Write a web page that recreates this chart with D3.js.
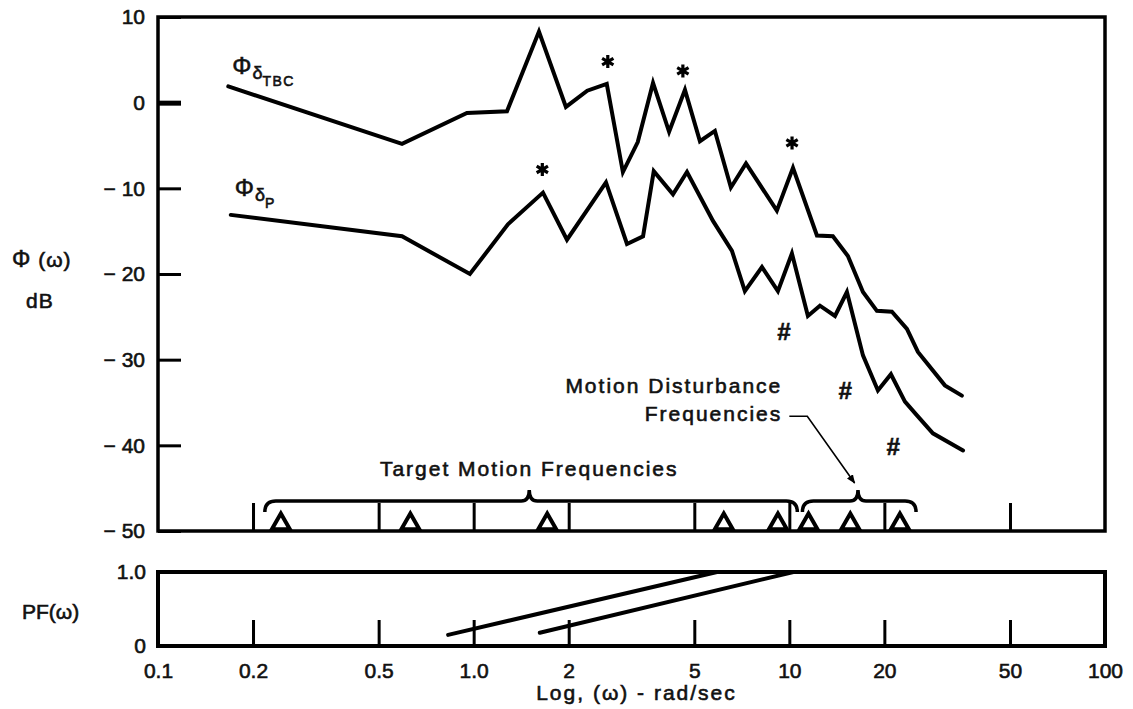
<!DOCTYPE html>
<html>
<head>
<meta charset="utf-8">
<script src="https://cdn.jsdelivr.net/npm/d3@7"></script>
<style>
  body { margin: 0; background: #fff; }
  text { font-family: "Liberation Sans", Arial, sans-serif; fill: #111; stroke: #111; stroke-width: 0.6px; }
</style>
</head>
<body>
<svg id="chart" width="1133" height="709"></svg>
<script>
// spectra: frequency in rad/sec, level in dB
const tbcFreq = [0.167, 0.593, 0.952, 1.275, 1.61, 1.96, 2.29, 2.64, 2.97, 3.31, 3.70, 4.16, 4.67, 5.21, 5.81,
                 6.53, 7.29, 9.13, 10.27, 12.23, 13.74, 15.33, 17.11, 18.94, 21.13, 23.58, 25.55, 31.1, 35.2]
const tbcDb   = [1.9, -4.8, -1.2, -1.0, 8.3, -0.5, 1.4, 2.2, -8.1, -4.6, 2.3, -3.4, 1.5, -4.5, -3.3,
                 -9.9, -7.1, -12.6, -7.6, -15.5, -15.6, -17.9, -22.1, -24.3, -24.4, -26.4, -29.1, -33.0, -34.2]

const pFreq = [0.170, 0.593, 0.973, 1.284, 1.658, 1.975, 2.625, 3.06, 3.44, 3.72, 4.28, 4.74, 5.73, 6.58, 7.23,
               8.19, 9.20, 10.19, 11.45, 12.50, 13.95, 15.22, 17.11, 19.08, 20.98, 23.24, 25.37, 28.5, 35.5]
const pDb   = [-13.1, -15.6, -20.0, -14.2, -10.5, -16.0, -9.3, -16.5, -15.6, -8.0, -10.7, -8.1, -13.8, -17.3, -22.0,
               -19.2, -22.0, -17.6, -24.9, -23.7, -24.9, -22.1, -29.5, -33.6, -31.7, -34.9, -36.5, -38.6, -40.6]

// input sine frequencies (triangles)
const targetFreqs  = [0.245, 0.63, 1.71, 6.2, 9.2]
const disturbFreqs = [11.5, 15.6, 22.4]

// brace ranges: [start, peak, end]
const targetBrace  = [0.218, 1.5, 10.6]
const disturbBrace = [11.0, 16.5, 25.2]

// annotation marks
const starFreq = [2.66, 4.60, 10.2, 1.65]
const starDb   = [4.8, 3.7, -4.7, -7.8]
const hashFreq = [9.6, 15.0, 21.3]
const hashDb   = [-26.7, -33.6, -40.1]

// pilot frequency function lines
const pf1Freq = [0.83, 5.9]
const pf1Val  = [0.15, 1.0]
const pf2Freq = [1.62, 10.3]
const pf2Val  = [0.18, 1.0]

const dbTicks = [10, 0, -10, -20, -30, -40, -50]
const freqTicks = [0.1, 0.2, 0.5, 1, 2, 5, 10, 20, 50, 100]
const freqTickLabels = ["0.1", "0.2", "0.5", "1.0", "2", "5", "10", "20", "50", "100"]
const pfTicks = [0, 1]
const pfTickLabels = ["0", "1.0"]

const layout = {"left": 158, "right": 1105,
                "top": 17, "bottom": 531,
                "pfTop": 572, "pfBottom": 646}

const svg = d3.select("#chart")
const fontSize = 21

const x = d3.scaleLog().domain([0.1, 100]).range([layout.left, layout.right])
const y = d3.scaleLinear().domain([-50, 10]).range([layout.bottom, layout.top])
const yPf = d3.scaleLinear().domain([0, 1]).range([layout.pfBottom, layout.pfTop])

const styleAxis = g => {
  g.select(".domain").remove()
  g.selectAll(".tick line").attr("stroke", "#000").attr("stroke-width", 3)
  g.selectAll(".tick text").attr("font-size", fontSize).attr("fill", "#111")
   .attr("font-family", '"Liberation Sans", Arial, sans-serif')
}

// ---- upper panel ----
const fmtDb = d => d < 0 ? "\u2212 " + Math.abs(d) : String(d)

svg.append("g")
   .attr("transform", `translate(${layout.left},0)`)
   .call(d3.axisLeft(y).tickValues(dbTicks).tickSize(-23).tickPadding(13).tickFormat(fmtDb))
   .call(styleAxis)
   .call(g => g.selectAll(".tick").filter(d => d === 0).select("line").attr("stroke-width", 5))

svg.append("g")
   .attr("transform", `translate(0,${layout.bottom})`)
   .call(d3.axisBottom(x).tickValues(freqTicks.slice(1, -1)).tickSize(-28).tickFormat(""))
   .call(styleAxis)

svg.append("rect")
   .attr("x", layout.left).attr("y", layout.top)
   .attr("width", layout.right - layout.left).attr("height", layout.bottom - layout.top)
   .attr("fill", "none").attr("stroke", "#000").attr("stroke-width", 3.5)

const line = d3.line().x(d => x(d[0])).y(d => y(d[1]))

svg.selectAll(".spectrum")
   .data([d3.zip(tbcFreq, tbcDb), d3.zip(pFreq, pDb)])
   .join("path")
   .attr("class", "spectrum")
   .attr("d", line)
   .attr("fill", "none")
   .attr("stroke", "#000")
   .attr("stroke-width", 4)
   .attr("stroke-linejoin", "miter")
   .attr("stroke-miterlimit", 6)
   .attr("stroke-linecap", "round")

// curve labels
const curveLabel = (freq, db, dyUp, sub) => {
  const t = svg.append("text")
               .attr("x", x(freq) + 4)
               .attr("y", y(db) - dyUp)
  t.append("tspan").attr("font-size", 24).text("\u03A6")
  t.append("tspan").attr("font-size", 18).attr("dy", 5).attr("dx", 1).text("\u03B4")
  t.append("tspan").attr("font-size", 14).attr("dy", 7).attr("letter-spacing", 1.5).text(sub)
}
curveLabel(tbcFreq[0], tbcDb[0], 12, "TBC")
curveLabel(pFreq[0], pDb[0], 19, "P")

svg.selectAll(".star")
   .data(d3.zip(starFreq, starDb))
   .join("path")
   .attr("class", "star")
   .attr("transform", d => `translate(${x(d[0])},${y(d[1])})`)
   .attr("d", d3.symbol().type(d3.symbolAsterisk).size(120))
   .attr("fill", "none")
   .attr("stroke", "#000")
   .attr("stroke-width", 3.2)

svg.selectAll(".hash")
   .data(d3.zip(hashFreq, hashDb))
   .join("text")
   .attr("class", "hash")
   .attr("x", d => x(d[0]))
   .attr("y", d => y(d[1]))
   .attr("text-anchor", "middle")
   .attr("dominant-baseline", "central")
   .attr("font-size", 24)
   .attr("font-weight", "bold")
   .attr("font-style", "italic")
   .text("#")

// triangles on the base line
svg.selectAll(".tri")
   .data(targetFreqs.concat(disturbFreqs))
   .join("path")
   .attr("class", "tri")
   .attr("transform", d => `translate(${x(d)},${layout.bottom - 7})`)
   .attr("d", d3.symbol().type(d3.symbolTriangle).size(140))
   .attr("fill", "none")
   .attr("stroke", "#000")
   .attr("stroke-width", 4)

// curly braces over the frequency groups
const braceLine = layout.bottom - 30
const bracePath = b => {
  const [x0, xp, x1] = b.map(x)
  const yEnd = braceLine + 11, yPeak = braceLine - 11, r = 11, rp = 8
  return `M${x0},${yEnd} Q${x0},${braceLine} ${x0 + r},${braceLine} L${xp - rp},${braceLine}` +
         ` Q${xp},${braceLine} ${xp},${yPeak} Q${xp},${braceLine} ${xp + rp},${braceLine}` +
         ` L${x1 - r},${braceLine} Q${x1},${braceLine} ${x1},${yEnd}`
}
svg.selectAll(".brace")
   .data([targetBrace, disturbBrace])
   .join("path")
   .attr("class", "brace")
   .attr("d", bracePath)
   .attr("fill", "none")
   .attr("stroke", "#000")
   .attr("stroke-width", 3.5)

svg.append("text")
   .attr("x", x(targetBrace[1]))
   .attr("y", y(-43.6))
   .attr("text-anchor", "middle")
   .attr("font-size", fontSize)
   .attr("letter-spacing", 2)
   .text("Target Motion Frequencies")

svg.selectAll(".disturb")
   .data(["Motion Disturbance", "Frequencies"])
   .join("text")
   .attr("class", "disturb")
   .attr("x", x(9.5))
   .attr("y", (d, i) => y(-33.9 - i * 3.3))
   .attr("text-anchor", "end")
   .attr("font-size", fontSize)
   .attr("letter-spacing", 2)
   .text(d => d)

svg.append("defs").append("marker")
   .attr("id", "head")
   .attr("viewBox", "0 0 10 10")
   .attr("refX", 9).attr("refY", 5)
   .attr("markerWidth", 9).attr("markerHeight", 9)
   .attr("markerUnits", "userSpaceOnUse")
   .attr("orient", "auto")
   .append("path")
   .attr("d", "M0,1 L10,5 L0,9 Z")
   .attr("fill", "#000")

svg.append("path")
   .attr("d", line([[10.0, -36.6], [11.4, -36.6], [16.1, -44.4]]))
   .attr("fill", "none")
   .attr("stroke", "#000")
   .attr("stroke-width", 1.6)
   .attr("marker-end", "url(#head)")

// y title
svg.append("text")
   .attr("x", 12).attr("y", 267)
   .attr("font-size", fontSize)
   .attr("letter-spacing", 1)
   .call(t => t.append("tspan").attr("font-size", 23).text("\u03A6"))
   .call(t => t.append("tspan").text(" (\u03C9)"))
svg.append("text")
   .attr("x", 26).attr("y", 308)
   .attr("font-size", fontSize)
   .attr("letter-spacing", 1)
   .text("dB")

// ---- lower panel ----
svg.append("g")
   .attr("transform", `translate(0,${layout.pfBottom})`)
   .call(d3.axisBottom(x).tickValues(freqTicks).tickSizeInner(-26).tickSizeOuter(0)
           .tickPadding(17).tickFormat((d, i) => freqTickLabels[i]))
   .call(styleAxis)

svg.append("g")
   .attr("transform", `translate(${layout.left},0)`)
   .call(d3.axisLeft(yPf).tickValues(pfTicks).tickSize(0).tickPadding(12)
           .tickFormat((d, i) => pfTickLabels[i]))
   .call(styleAxis)

svg.append("rect")
   .attr("x", layout.left).attr("y", layout.pfTop)
   .attr("width", layout.right - layout.left).attr("height", layout.pfBottom - layout.pfTop)
   .attr("fill", "none").attr("stroke", "#000").attr("stroke-width", 4)

const pfLine = d3.line().x(d => x(d[0])).y(d => yPf(d[1]))
svg.selectAll(".pf")
   .data([d3.zip(pf1Freq, pf1Val), d3.zip(pf2Freq, pf2Val)])
   .join("path")
   .attr("class", "pf")
   .attr("d", pfLine)
   .attr("fill", "none")
   .attr("stroke", "#000")
   .attr("stroke-width", 4)
   .attr("stroke-linecap", "round")

svg.append("text")
   .attr("x", 22).attr("y", 619)
   .attr("font-size", fontSize)
   .text("PF(\u03C9)")

svg.append("text")
   .attr("x", (x(1) + x(10)) / 2 + 5)
   .attr("y", 700)
   .attr("text-anchor", "middle")
   .attr("font-size", fontSize)
   .attr("letter-spacing", 2)
   .text("Log, (\u03C9) - rad/sec")
</script>
</body>
</html>
